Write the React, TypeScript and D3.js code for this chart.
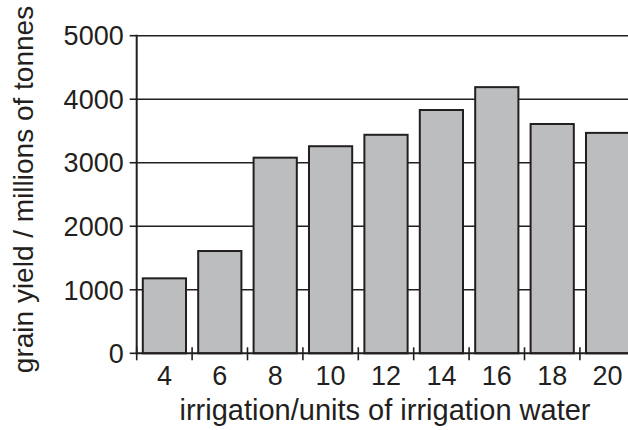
import React from "react";
import * as d3 from "d3";

const categories = ["4", "6", "8", "10", "12", "14", "16", "18", "20"];
const grainYield = [1180, 1610, 3080, 3260, 3440, 3830, 4190, 3610, 3470];
const yTicks = [0, 1000, 2000, 3000, 4000, 5000];
const xTitle = "irrigation/units of irrigation water";
const yTitle = "grain yield / millions of tonnes";

const W = 628;
const H = 430;
const INK = "#231f20";
const FONT = "'Liberation Sans', Arial, Helvetica, sans-serif";

export default function App() {
  const x0 = 136.7;
  const y = d3.scaleLinear().domain([0, 5000]).range([353.3, 35.7]);
  const x = d3
    .scaleBand<string>()
    .domain(categories)
    .range([x0, x0 + 55.4 * categories.length])
    .paddingInner(0.22)
    .paddingOuter(0.11);
  const step = x.step();
  const bounds = d3.range(categories.length + 1).map((i) => x0 + i * step);

  return (
    <svg
      width={W}
      height={H}
      style={{ position: "absolute", left: 0, top: 0, background: "#fff" }}
    >
      {yTicks
        .filter((t) => t > 0)
        .map((t) => (
          <line
            key={"g" + t}
            x1={x0}
            x2={W}
            y1={y(t)}
            y2={y(t)}
            stroke={INK}
            strokeWidth={1.6}
          />
        ))}
      {grainYield.map((v, i) => (
        <rect
          key={"b" + i}
          x={x(categories[i])!}
          y={y(v)}
          width={x.bandwidth()}
          height={y(0) - y(v)}
          fill="#bcbdbf"
          stroke={INK}
          strokeWidth={2}
        />
      ))}
      <line x1={x0} x2={x0} y1={y(5000) - 1} y2={y(0) + 1} stroke={INK} strokeWidth={2} />
      <line x1={x0 - 1} x2={W} y1={y(0)} y2={y(0)} stroke={INK} strokeWidth={2} />
      {yTicks.map((t) => (
        <g key={"yt" + t}>
          <line x1={x0 - 7} x2={x0} y1={y(t)} y2={y(t)} stroke={INK} strokeWidth={1.6} />
          <text
            x={x0 - 13}
            y={y(t)}
            dy="0.36em"
            textAnchor="end"
            fontFamily={FONT}
            fontSize={27}
            fill={INK}
          >
            {t}
          </text>
        </g>
      ))}
      {bounds.map((b, i) => (
        <line
          key={"xt" + i}
          x1={b}
          x2={b}
          y1={y(0) - 6}
          y2={y(0) + 7}
          stroke={INK}
          strokeWidth={1.6}
        />
      ))}
      {categories.map((c) => (
        <text
          key={"xl" + c}
          x={x(c)! + x.bandwidth() / 2}
          y={385}
          textAnchor="middle"
          fontFamily={FONT}
          fontSize={27}
          fill={INK}
        >
          {c}
        </text>
      ))}
      <text
        x={385}
        y={420}
        textAnchor="middle"
        fontFamily={FONT}
        fontSize={29}
        fill={INK}
      >
        {xTitle}
      </text>
      <text
        transform={`translate(33,${(10 + 369) / 2}) rotate(-90)`}
        textAnchor="middle"
        fontFamily={FONT}
        fontSize={28}
        fill={INK}
      >
        {yTitle}
      </text>
    </svg>
  );
}
